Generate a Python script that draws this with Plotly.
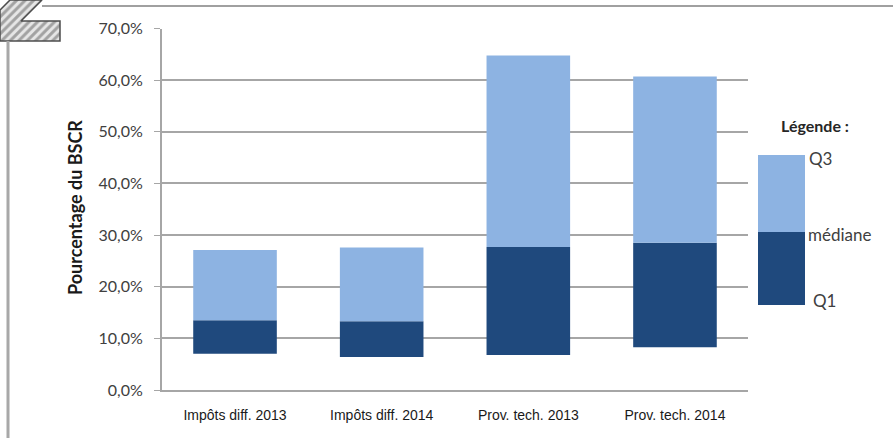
import plotly.graph_objects as go

# Interquartile spread of each indicator, in % of BSCR
categories = ["Impôts diff. 2013", "Impôts diff. 2014", "Prov. tech. 2013", "Prov. tech. 2014"]
q1 = [7.0, 6.4, 6.8, 8.3]
mediane = [13.5, 13.3, 27.7, 28.5]
q3 = [27.1, 27.6, 64.8, 60.7]

y_ticks = [0, 10, 20, 30, 40, 50, 60, 70]
y_tick_labels = [f"{v:.1f}".replace(".", ",") + "%" for v in y_ticks]

W, H = 893, 438
DARK = "#1F497D"
LIGHT = "#8DB3E2"
GRID = "#A6A6A6"

fig = go.Figure()

# Lower box: Q1 -> median
fig.add_trace(go.Bar(
    x=categories, y=[m - a for m, a in zip(mediane, q1)], base=q1,
    marker=dict(color=DARK, line=dict(width=0)), width=0.57,
    showlegend=False, hoverinfo="skip",
))
# Upper box: median -> Q3
fig.add_trace(go.Bar(
    x=categories, y=[b - m for b, m in zip(q3, mediane)], base=mediane,
    marker=dict(color=LIGHT, line=dict(width=0)), width=0.57,
    showlegend=False, hoverinfo="skip",
))

# Hatched corner emblem, drawn on a full-page pixel axis
fig.add_trace(go.Scatter(
    x=[10, 42, 21, 60, 60, 0, 0, 10],
    y=[0, 0, 21, 21, 41, 41, 10, 0],
    xaxis="x2", yaxis="y2", mode="lines", fill="toself",
    line=dict(color="#4D4D4D", width=1.5),
    fillcolor="#E0E0E0",
    fillpattern=dict(shape="/", fgcolor="#5E5E5E", bgcolor="#E6E6E6", size=6, solidity=0.5),
    showlegend=False, hoverinfo="skip",
))

shapes = [
    # page frame
    dict(type="line", xref="x2", yref="y2", x0=42, x1=W, y0=6, y1=6,
         line=dict(color="#A0A0A0", width=2)),
    dict(type="line", xref="x2", yref="y2", x0=8, x1=8, y0=41, y1=H,
         line=dict(color="#A8A8A8", width=3)),
    # key box
    dict(type="rect", xref="x2", yref="y2", x0=758, x1=805, y0=155, y1=232,
         fillcolor=LIGHT, line=dict(width=0)),
    dict(type="rect", xref="x2", yref="y2", x0=758, x1=805, y0=232, y1=305,
         fillcolor=DARK, line=dict(width=0)),
]

txt = dict(family="Lato, 'Open Sans', sans-serif", color="#404040", size=17)
annotations = [
    dict(text="<b>Légende :</b>", xref="x2", yref="y2", x=815, y=125, showarrow=False,
         font=dict(family="Lato, sans-serif", color="#262626", size=16)),
    dict(text="Q3", xref="x2", yref="y2", x=807, y=158, xanchor="left", showarrow=False, font=txt),
    dict(text="médiane", xref="x2", yref="y2", x=806, y=234, xanchor="left", showarrow=False, font=txt),
    dict(text="Q1", xref="x2", yref="y2", x=811, y=300, xanchor="left", showarrow=False, font=txt),
    dict(text="<b>Pourcentage du BSCR</b>", xref="x2", yref="y2", x=75, y=208, textangle=-90,
         showarrow=False, font=dict(family="Lato, sans-serif", color="#1A1A1A", size=18)),
]

fig.update_layout(
    width=W, height=H, autosize=False,
    margin=dict(l=0, r=0, t=0, b=0, pad=0, autoexpand=False),
    paper_bgcolor="white", plot_bgcolor="rgba(0,0,0,0)",
    barmode="overlay", bargap=0.43,
    xaxis=dict(
        domain=[161.7 / W, 748.3 / W], anchor="y", automargin=False,
        showgrid=False, showline=True, linecolor=GRID, linewidth=1.5,
        ticks="", ticklabelstandoff=11,
        tickfont=dict(family="'Liberation Sans Narrow', 'Arial Narrow', 'Liberation Sans', sans-serif",
                      size=14, color="#1A1A1A"),
        fixedrange=True,
    ),
    yaxis=dict(
        domain=[1 - 390 / H, 1 - 28.6 / H], anchor="x", automargin=False,
        range=[0, 70], tickvals=y_ticks, ticktext=y_tick_labels,
        showgrid=True, gridcolor=GRID, gridwidth=1.5,
        showline=True, linecolor=GRID, linewidth=1.5,
        ticks="outside", ticklen=6, tickcolor=GRID, ticklabelstandoff=8,
        zeroline=False,
        tickfont=dict(family="Lato, 'Open Sans', sans-serif", size=16, color="#404040"),
        fixedrange=True,
    ),
    xaxis2=dict(domain=[0, 1], range=[0, W], anchor="y2", visible=False,
                automargin=False, fixedrange=True),
    yaxis2=dict(domain=[0, 1], range=[H, 0], anchor="x2", visible=False,
                automargin=False, fixedrange=True),
    shapes=shapes,
    annotations=annotations,
)

fig.write_html("out.html")
